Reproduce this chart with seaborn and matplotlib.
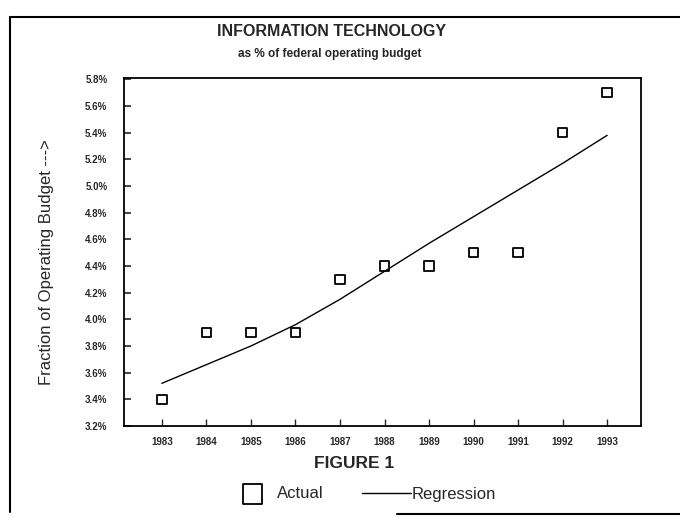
import pandas as pd
import matplotlib
matplotlib.use('Agg')
import matplotlib.pyplot as plt
import seaborn as sns
from matplotlib.lines import Line2D

# values
years = [1983, 1984, 1985, 1986, 1987, 1988, 1989, 1990, 1991, 1992, 1993]
actual = [3.4, 3.9, 3.9, 3.9, 4.3, 4.4, 4.4, 4.5, 4.5, 5.4, 5.7]
regression = [3.52, 3.66, 3.80, 3.96, 4.15, 4.36, 4.57, 4.77, 4.97, 5.17, 5.38]
ytick_vals = [3.2, 3.4, 3.6, 3.8, 4.0, 4.2, 4.4, 4.6, 4.8, 5.0, 5.2, 5.4, 5.6, 5.8]
ytick_labels = ['%.1f%%' % v for v in ytick_vals]

df = pd.DataFrame({'Year': years, 'Actual': actual, 'Regression': regression})

sns.set_style('white')
plt.rcParams['font.family'] = ['Liberation Sans', 'DejaVu Sans']

fig = plt.figure(figsize=(6.8, 5.18), dpi=100)
ax = fig.add_axes([124 / 680, 1 - 426 / 518, 517 / 680, 348 / 518])

sns.lineplot(data=df, x='Year', y='Regression', ax=ax, color='black',
             linewidth=1.0, label='Regression')
sns.scatterplot(data=df, x='Year', y='Actual', ax=ax, marker='s', s=45,
                facecolor='none', edgecolor='black', linewidth=1.3, label='Actual')

ax.set_xlim(1982.15, 1993.76)
ax.set_ylim(3.2, 5.81)
ax.set_xticks(years)
ax.set_xticklabels([str(y) for y in years], fontsize=7, fontweight='bold')
ax.set_yticks(ytick_vals)
ax.set_yticklabels(ytick_labels, fontsize=7, fontweight='bold')
ax.tick_params(axis='y', direction='in', length=5, width=1.2, pad=12, left=True)
ax.tick_params(axis='x', direction='in', length=5, width=1.0, pad=8, bottom=True)
ax.set_xlabel('')
ax.set_ylabel('')
for sp in ax.spines.values():
    sp.set_color('black')
    sp.set_linewidth(1.3)

handles, labels = ax.get_legend_handles_labels()
ax.get_legend().remove()
order = [labels.index('Actual'), labels.index('Regression')]
fig.legend([handles[i] for i in order], [labels[i] for i in order],
           loc='center', bbox_to_anchor=(362 / 680, 1 - 494 / 518), ncol=2,
           frameon=False, markerscale=2.1, handlelength=2.9, columnspacing=2.3,
           handletextpad=0.05, prop={'size': 12}, scatterpoints=1)

fig.text(332 / 680, 1 - 32 / 518, 'INFORMATION TECHNOLOGY', ha='center', va='center',
         fontsize=11.5, fontweight='bold')
fig.text(330 / 680, 1 - 54 / 518, 'as % of federal operating budget', ha='center',
         va='center', fontsize=8.5, fontweight='bold')
fig.text(47 / 680, 1 - 262 / 518, 'Fraction of Operating Budget --->', ha='center',
         va='center', rotation=90, fontsize=12)
fig.text(354 / 680, 1 - 463 / 518, 'FIGURE 1', ha='center', va='center',
         fontsize=12.5, fontweight='bold')

# outer border of the scanned page (bottom edge only partly visible)
fig.add_artist(Line2D([10 / 680, 1.0], [1 - 17 / 518, 1 - 17 / 518],
                      transform=fig.transFigure, color='black', lw=1.5))
fig.add_artist(Line2D([10 / 680, 10 / 680], [1 - 17 / 518, 1 - 512 / 518],
                      transform=fig.transFigure, color='black', lw=1.5))
fig.add_artist(Line2D([397 / 680, 1.0], [1 - 514 / 518, 1 - 514 / 518],
                      transform=fig.transFigure, color='black', lw=1.5))

fig.savefig('out.png', dpi=100)
